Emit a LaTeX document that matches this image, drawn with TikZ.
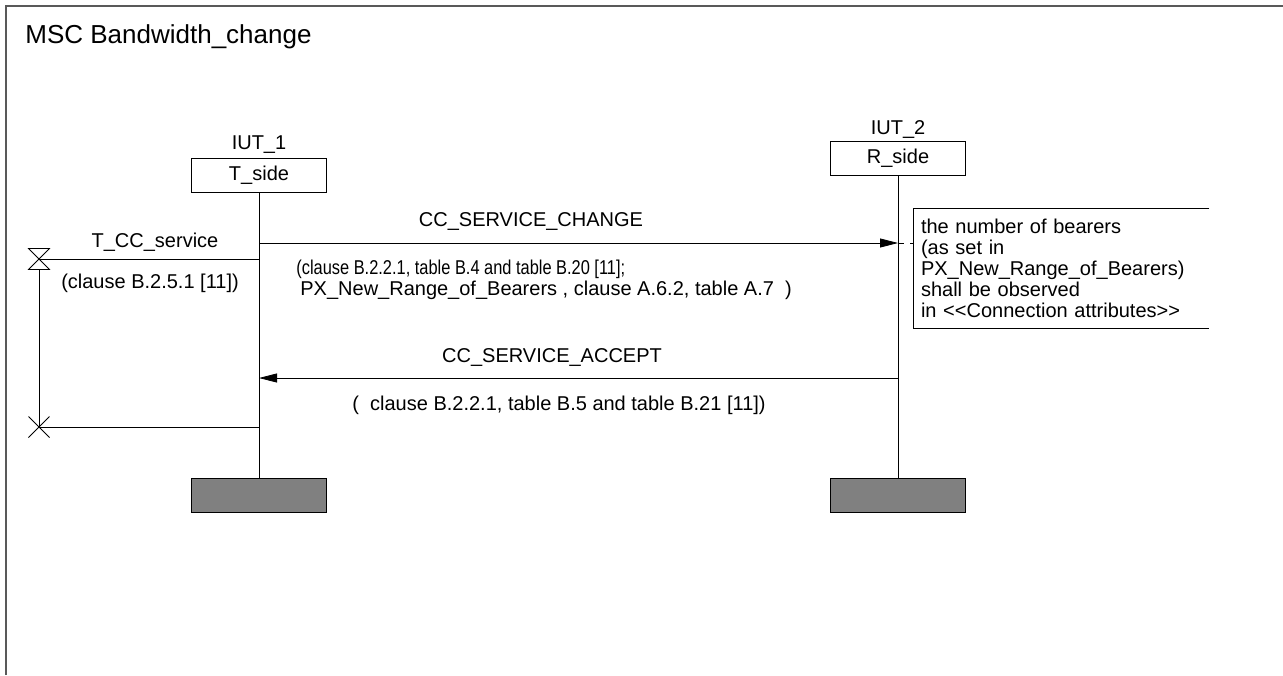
\documentclass[tikz,border=0pt]{standalone}
\usepackage{graphicx}
\usepackage{fontspec}
\setmainfont{Liberation Sans}
\usetikzlibrary{arrows.meta}

\begin{document}
\begin{tikzpicture}[x=0.5pt,y=-0.5pt,
    every node/.style={font=\fontsize{10}{10.5}\selectfont},
    inst/.style={draw,minimum width=67.5pt,minimum height=17pt,inner sep=0pt},
    stopbox/.style={draw,fill=gray,minimum width=67.5pt,minimum height=17pt,inner sep=0pt},
    msg/.style={-{Triangle[length=9pt,width=4.5pt]}},
    lbl/.style={inner sep=0pt}]
    \useasboundingbox (0,0) rectangle (1283,675);
    \draw[gray!70!black,line width=0.8pt] (6,675) -- (6,6) -- (1283,6);
    \node[lbl,anchor=west,font=\fontsize{13}{15}\selectfont] (title) at (25,37){MSC Bandwidth\_change};

    \node (IUT1) at (259,145){IUT\_1};
    \node (IUT2) at (898,130){IUT\_2};
    \node[inst] (Tside) at (259,175){T\_side};
    \node[inst] (Rside) at (898,158.5){R\_side};
    \node[stopbox] (Tend) at (259,495){};
    \node[stopbox] (Rend) at (898,495){};

    \draw (Tside) -- (Tend);
    \draw (Rside) -- (Rend);

    \coordinate (chgT) at (259,243);
    \coordinate (chgR) at (898,243);
    \coordinate (accT) at (259,378);
    \coordinate (accR) at (898,378);
    \coordinate (tset) at (39,259);
    \coordinate (tout) at (39,427);

    \draw (chgT) edge[msg] (chgR);
    \node[lbl] (chgname) at (531,221){CC\_SERVICE\_CHANGE};
    \node[lbl,anchor=west,align=left] (chgpar) at (296,280){\scalebox{0.82}[1]{(clause B.2.2.1, table B.4 and table B.20 [11];}\\\hspace{2pt}PX\_New\_Range\_of\_Bearers , clause A.6.2, table A.7~~)};

    \node[minimum width=147.5pt,minimum height=59.5pt,text width=140.5pt,inner xsep=3.5pt,inner ysep=0pt,align=left] (note) at (1061.5,268.5){the number of bearers\\(as set in\\PX\_New\_Range\_of\_Bearers)\\shall be observed\\in <\kern0pt<Connection attributes>\kern0pt>};
    \draw (note.north east) -- (note.north west) -- (note.south west) -- (note.south east);
    \draw[dashed] (chgR) -- (note.west |- chgR);

    \draw (accR) edge[msg] (accT);
    \node[lbl] (accname) at (552,357){CC\_SERVICE\_ACCEPT};
    \node[lbl,anchor=west] (accpar) at (352,405){(\ \ clause B.2.2.1, table B.5 and table B.21 [11])};

    \draw (tset) -- (tset -| Tside.south);
    \draw ([shift={(-10.5,-10.5)}]tset) -- ++(21,0) -- ++(-21,21) -- ++(21,0) -- cycle;
    \draw ([yshift=-5.25pt]tset) -- (tout);
    \draw ([shift={(-10.5,-10.5)}]tout) -- ++(21,21) ([shift={(-10.5,10.5)}]tout) -- ++(21,-21);
    \draw (tout) -- (tout -| Tside.south);
    \node[lbl] (tname) at (155,242){T\_CC\_service};
    \node[lbl] (tpar) at (150,283){(clause B.2.5.1 [11])};
  \end{tikzpicture}
\end{document}
